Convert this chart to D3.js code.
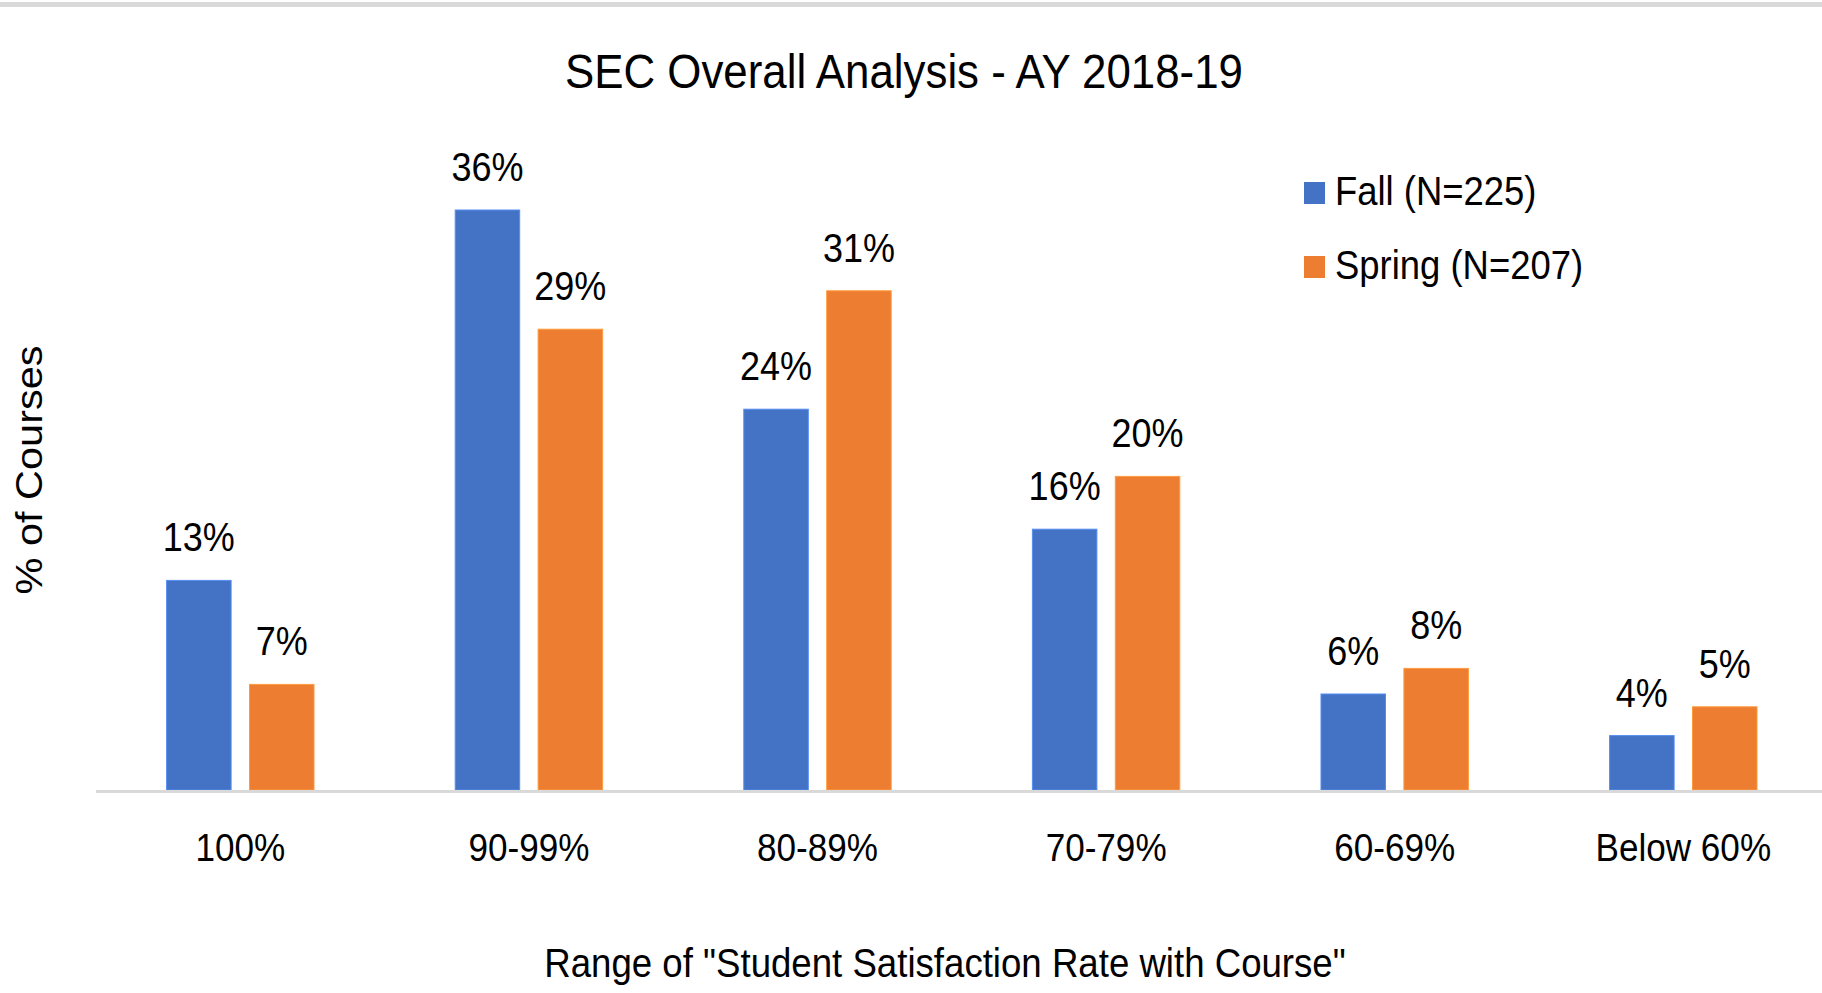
<!DOCTYPE html>
<html>
<head>
<meta charset="utf-8">
<script src="https://cdn.jsdelivr.net/npm/d3@7"></script>
<style>
    html, body { margin: 0; padding: 0; background: #fff; }
    svg { display: block; }
    text { font-family: "Liberation Sans", Arial, sans-serif; fill: #000; }
</style>
</head>
<body>
<div id="chart"></div>
<script>
// data
const categories = ["100%", "90-99%", "80-89%", "70-79%", "60-69%", "Below 60%"];
const seriesNames = ["Fall (N=225)", "Spring (N=207)"];
const fallValues = [13.1, 36.25, 23.8, 16.3, 6.0, 3.4];
const springValues = [6.6, 28.8, 31.2, 19.6, 7.6, 5.2];
const fallLabels = ["13%", "36%", "24%", "16%", "6%", "4%"];
const springLabels = ["7%", "29%", "31%", "20%", "8%", "5%"];
const colors = ["#4472C4", "#ED7D31"];

const width = 1822;
const height = 993;
// the source text looks a bit narrow, so glyphs are squeezed sideways
const sx = 0.9;

const svg = d3.select("#chart")
    .append("svg")
    .attr("width", width)
    .attr("height", height);

// grey strip along the top edge
svg.append("rect")
    .attr("x", 0)
    .attr("y", 2)
    .attr("width", width)
    .attr("height", 5)
    .attr("fill", "#d9d9d9");

const plotLeft = 96;
const plotRight = 96 + 6 * 288.6;
const baseY = 790;

const x0 = d3.scaleBand()
    .domain(categories)
    .range([plotLeft, plotRight])
    .paddingInner(0)
    .paddingOuter(0);

const x1 = d3.scaleBand()
    .domain(seriesNames)
    .range([-73.7, 73.7])
    .paddingInner(0.222);

const y = d3.scaleLinear()
    .domain([0, 40])
    .range([baseY, baseY - 640]);

const rows = categories.map((c, i) => ({
    cat: c,
    items: [
        { name: seriesNames[0], value: fallValues[i], label: fallLabels[i], color: colors[0] },
        { name: seriesNames[1], value: springValues[i], label: springLabels[i], color: colors[1] }
    ]
}));

const groups = svg.selectAll("g.cat")
    .data(rows)
    .enter()
    .append("g")
    .attr("class", "cat")
    .attr("transform", d => `translate(${x0(d.cat) + x0.bandwidth() / 2},0)`);

groups.selectAll("rect")
    .data(d => d.items)
    .enter()
    .append("rect")
    .attr("x", d => x1(d.name))
    .attr("y", d => y(d.value))
    .attr("width", x1.bandwidth())
    .attr("height", d => y(0) - y(d.value))
    .attr("fill", d => d.color)
    .attr("stroke", d => d3.color(d.color).brighter(0.6))
    .attr("stroke-width", 1);

groups.selectAll("text.lbl")
    .data(d => d.items)
    .enter()
    .append("text")
    .attr("class", "lbl")
    .attr("transform", d => `translate(${x1(d.name) + x1.bandwidth() / 2},${y(d.value) - 29}) scale(${sx},1)`)
    .attr("text-anchor", "middle")
    .attr("font-size", 40)
    .text(d => d.label);

// baseline
svg.append("line")
    .attr("x1", plotLeft)
    .attr("x2", width)
    .attr("y1", baseY + 1.5)
    .attr("y2", baseY + 1.5)
    .attr("stroke", "#d9d9d9")
    .attr("stroke-width", 3);

// category labels
const xAxis = d3.axisBottom(x0).tickSize(0).tickPadding(0);
const axisG = svg.append("g")
    .attr("transform", `translate(0,${baseY})`)
    .call(xAxis);
axisG.select(".domain").remove();
axisG.selectAll("text")
    .attr("dy", 0)
    .attr("y", 0)
    .attr("transform", `translate(0,71) scale(${sx},1)`)
    .attr("font-size", 39)
    .attr("font-family", "'Liberation Sans', Arial, sans-serif")
    .attr("fill", "#000");

// title
svg.append("text")
    .attr("transform", `translate(904,88) scale(${sx},1)`)
    .attr("text-anchor", "middle")
    .attr("font-size", 48.7)
    .text("SEC Overall Analysis - AY 2018-19");

// axis titles
svg.append("text")
    .attr("transform", `translate(945,977) scale(${sx},1)`)
    .attr("text-anchor", "middle")
    .attr("font-size", 40.7)
    .text('Range of "Student Satisfaction Rate with Course"');

svg.append("text")
    .attr("transform", `translate(42,470) rotate(-90) scale(1,${sx})`)
    .attr("text-anchor", "middle")
    .attr("font-size", 41.5)
    .text("% of Courses");

// legend
const legend = svg.selectAll("g.legend")
    .data(seriesNames)
    .enter()
    .append("g")
    .attr("class", "legend")
    .attr("transform", (d, i) => `translate(1304,${182 + i * 74})`);

legend.append("rect")
    .attr("width", 21)
    .attr("height", 22)
    .attr("fill", (d, i) => colors[i]);

legend.append("text")
    .attr("transform", `translate(31,23) scale(${sx},1)`)
    .attr("font-size", 40.5)
    .text(d => d);
</script>
</body>
</html>
